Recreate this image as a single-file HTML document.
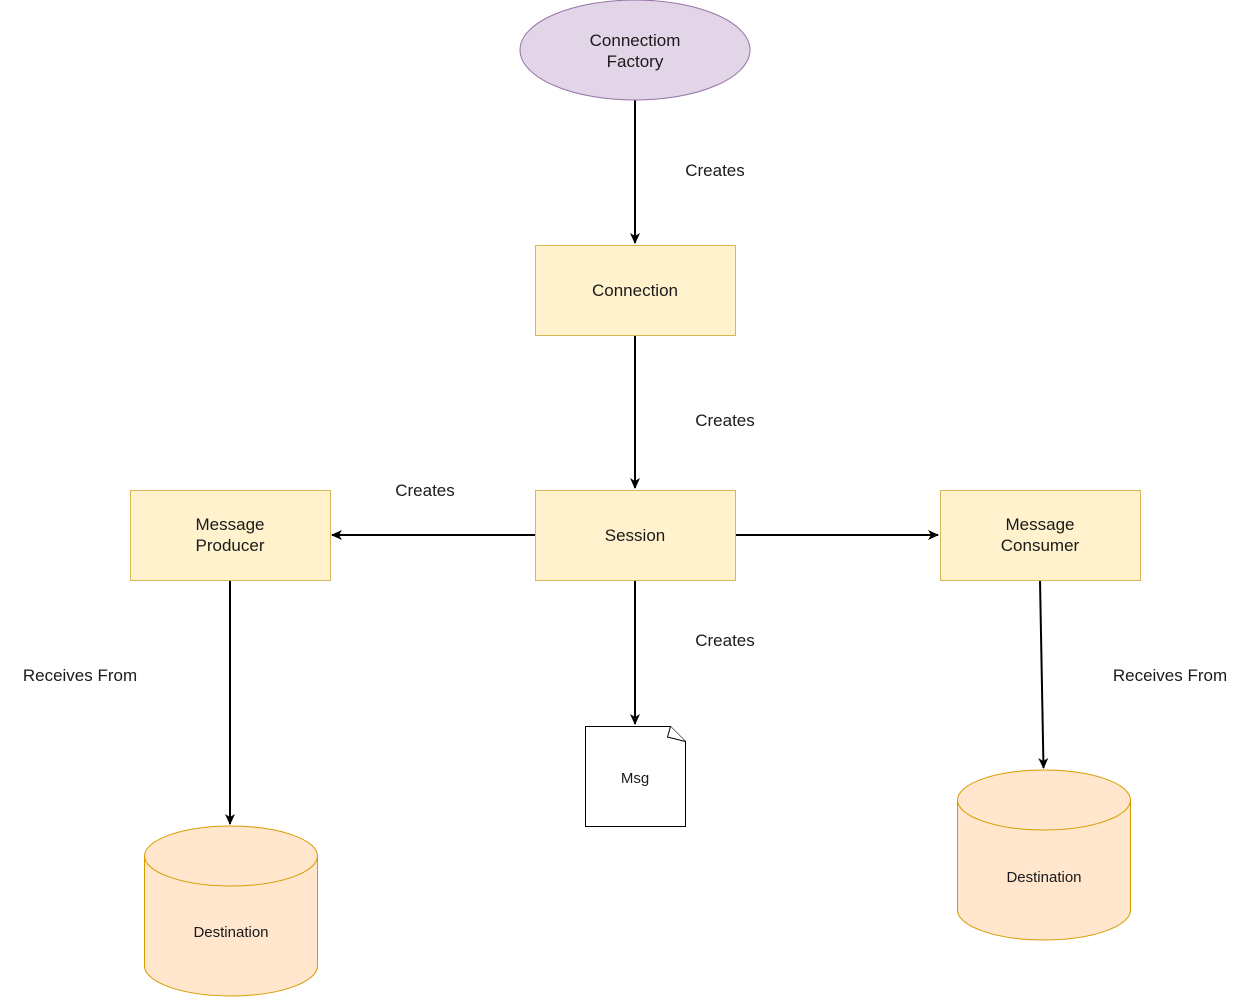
<!DOCTYPE html>
<html><head><meta charset="utf-8"><style>
html,body{margin:0;padding:0;background:#fff;}
svg{display:block;}
text{font-family:"Liberation Sans",Arial,sans-serif;fill:#1a1a1a;}
</style></head><body>
<svg width="1251" height="997" viewBox="0 0 1251 997" xmlns="http://www.w3.org/2000/svg">
<defs>
<marker id="a" markerWidth="12" markerHeight="12" refX="10" refY="6" orient="auto" markerUnits="userSpaceOnUse">
<path d="M0,1 L11,6 L0,11 L3,6 Z" fill="#000"/>
</marker>
</defs>
<g stroke="#000" stroke-width="2" fill="none">
<line x1="635" y1="100" x2="635" y2="243" marker-end="url(#a)"/>
<line x1="635" y1="335" x2="635" y2="488" marker-end="url(#a)"/>
<line x1="535" y1="535" x2="332" y2="535" marker-end="url(#a)"/>
<line x1="735" y1="535" x2="938" y2="535" marker-end="url(#a)"/>
<line x1="635" y1="580" x2="635" y2="724" marker-end="url(#a)"/>
<line x1="230" y1="580" x2="230" y2="824" marker-end="url(#a)"/>
<line x1="1040" y1="580" x2="1043.5" y2="768" marker-end="url(#a)"/>
</g>
<ellipse cx="635" cy="50" rx="115" ry="50" fill="#e1d5e7" stroke="#9673a6"/>
<text x="635" y="46" font-size="17" text-anchor="middle">Connectiom</text>
<text x="635" y="67" font-size="17" text-anchor="middle">Factory</text>
<g fill="#fff2cc" stroke="#d6b656">
<rect x="535.5" y="245.5" width="200" height="90"/>
<rect x="535.5" y="490.5" width="200" height="90"/>
<rect x="130.5" y="490.5" width="200" height="90"/>
<rect x="940.5" y="490.5" width="200" height="90"/>
</g>
<g font-size="17" text-anchor="middle">
<text x="635" y="296">Connection</text>
<text x="635" y="541">Session</text>
<text x="230" y="530">Message</text>
<text x="230" y="551">Producer</text>
<text x="1040" y="530">Message</text>
<text x="1040" y="551">Consumer</text>
</g>
<path d="M585.5,726.5 H670.5 L685.5,741.5 V826.5 H585.5 Z" fill="#fff" stroke="#000"/>
<path d="M670.5,726.5 L667.5,737 L685.5,741.5" fill="#fff" stroke="#000"/>
<text x="635" y="783" font-size="15" text-anchor="middle">Msg</text>
<g fill="#ffe6cc" stroke="#d79b00">
<path d="M144.5,856 A86.5,30 0 0 1 317.5,856 V966 A86.5,30 0 0 1 144.5,966 Z"/>
<path d="M144.5,856 A86.5,30 0 0 0 317.5,856"/>
<path d="M957.5,800 A86.5,30 0 0 1 1130.5,800 V910 A86.5,30 0 0 1 957.5,910 Z"/>
<path d="M957.5,800 A86.5,30 0 0 0 1130.5,800"/>
</g>
<text x="231" y="937" font-size="15" text-anchor="middle">Destination</text>
<text x="1044" y="882" font-size="15" text-anchor="middle">Destination</text>
<g font-size="17" text-anchor="middle">
<text x="715" y="176">Creates</text>
<text x="725" y="426">Creates</text>
<text x="425" y="496">Creates</text>
<text x="725" y="646">Creates</text>
<text x="80" y="681">Receives From</text>
<text x="1170" y="681">Receives From</text>
</g>
</svg>
</body></html>
